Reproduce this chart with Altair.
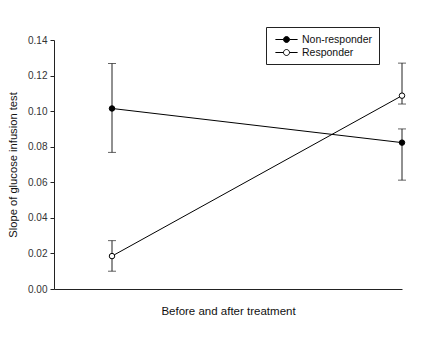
import altair as alt
import pandas as pd

groups = ["Non-responder", "Responder"]
timepoints = [0, 1]
means_non = [0.1015, 0.0823]
low_non = [0.0768, 0.0612]
high_non = [0.1268, 0.0900]
means_res = [0.0185, 0.1087]
low_res = [0.0100, 0.1040]
high_res = [0.0272, 0.1270]
y_ticks = [0.0, 0.02, 0.04, 0.06, 0.08, 0.10, 0.12, 0.14]

rows = []
for g, m, lo, hi in [(groups[0], means_non, low_non, high_non),
                     (groups[1], means_res, low_res, high_res)]:
    for t, mv, l, h in zip(timepoints, m, lo, hi):
        rows.append({"group": g, "t": t, "mean": mv, "low": l, "high": h})
df = pd.DataFrame(rows)

xs = alt.Scale(domain=[-0.2, 1.0], nice=False, zero=False)
ys = alt.Scale(domain=[0, 0.14], nice=False)

x_axis = alt.Axis(title="Before and after treatment", ticks=False, labels=False,
                  grid=False, domainColor="#222", titleFontWeight="normal",
                  titleFontSize=11.5, titlePadding=16, titleFont="Liberation Sans",
                  titleColor="#111")
y_axis = alt.Axis(title="Slope of glucose infusion test", values=y_ticks,
                  format=".2f", grid=False, tickSize=4, tickColor="#222", domainColor="#222",
                  labelFont="Liberation Sans", labelFontSize=10, labelColor="#333", labelPadding=3,
                  labelOverlap=False,
                  titleFont="Liberation Sans", titleFontSize=11.2, titleFontWeight="normal",
                  titleColor="#111", titlePadding=9)

base = alt.Chart(df)

def X():
    return alt.X("t:Q", scale=xs, axis=x_axis)

def Y(field):
    return alt.Y(field, scale=ys, axis=y_axis)

lines = base.mark_line(color="black", strokeWidth=1).encode(x=X(), y=Y("mean:Q"), detail="group:N")
rules = base.mark_rule(color="#222", strokeWidth=1).encode(x=X(), y=Y("low:Q"), y2="high:Q")
caps_lo = base.mark_tick(color="#222", thickness=1, size=8, orient="horizontal").encode(
    x=X(), y=Y("low:Q"))
caps_hi = base.mark_tick(color="#222", thickness=1, size=8, orient="horizontal").encode(
    x=X(), y=Y("high:Q"))

sym = "M-1.85,0H-0.5M0.5,0H1.85M0.5,0A0.5,0.5 0 1,1 -0.5,0A0.5,0.5 0 1,1 0.5,0Z"
points = base.mark_point(filled=True, stroke="black", strokeWidth=1, size=30, opacity=1).encode(
    x=X(), y=Y("mean:Q"),
    fill=alt.Fill("group:N", scale=alt.Scale(domain=groups, range=["black", "white"]),
                  legend=alt.Legend(title=None, orient="none", legendX=212, legendY=-13,
                                    strokeColor="#222", padding=6, symbolType=sym,
                                    symbolSize=144, symbolStrokeColor="black", symbolStrokeWidth=1,
                                    labelFont="Liberation Sans", labelFontSize=10.5, labelColor="#111",
                                    labelOffset=9, rowPadding=1, symbolOffset=8)),
)

chart = alt.layer(lines, rules, caps_lo, caps_hi, points).properties(
    width=348, height=249,
    autosize=alt.AutoSizeParams(type="none"),
    padding={"left": 46, "top": 32, "right": 27, "bottom": 63},
    background="white",
).configure_view(stroke=None)

chart.save("out.html", embed_options={"renderer": "svg", "actions": False})
